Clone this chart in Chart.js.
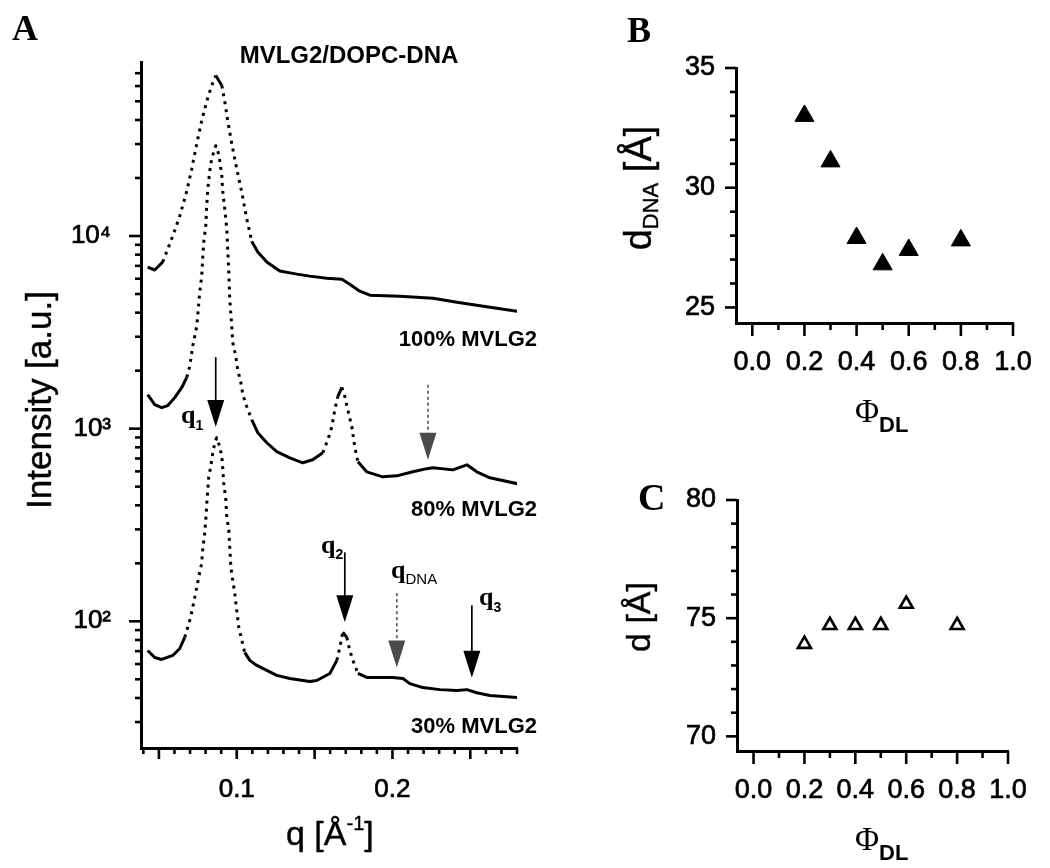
<!DOCTYPE html>
<html><head><meta charset="utf-8">
<script src="https://cdn.jsdelivr.net/npm/chart.js@4.4.1/dist/chart.umd.min.js"></script>
<style>
html,body{margin:0;padding:0;background:#fff;overflow:hidden;}
body{width:1050px;height:868px;position:relative;}
canvas{position:absolute;display:block;}
#cA{left:0;top:0;width:600px;height:868px;}
#cB{left:600px;top:0;width:450px;height:445px;}
#cC{left:600px;top:430px;width:450px;height:438px;}
</style></head><body>
<canvas id="cA" width="600" height="868"></canvas>
<canvas id="cB" width="450" height="445"></canvas>
<canvas id="cC" width="450" height="438"></canvas>
<script>
// ---------- Panel A data: q [1/Å] and intensity [a.u.] ----------
const q100 = [0.0428,0.0473,0.0524,0.0589,0.0634,0.0679,0.0711,0.0743,0.0775,0.0807,0.0839,0.0865,0.0904,0.0923,0.0942,0.0968,0.1000,0.1032,0.1064,0.1096,0.1135,0.1193,0.1276,0.1386,0.1469,0.1578,0.1675,0.1726,0.1790,0.1855,0.2048,0.2260,0.2414,0.2626,0.2806];
const i100 = [6900,6660,7320,10000,12700,17100,22300,30100,39700,49900,60400,68100,60400,49900,39700,30100,22300,16900,12300,9400,8260,7320,6580,6340,6190,6040,5970,5620,5170,4930,4870,4750,4530,4270,4060];

const q80 = [0.0428,0.0473,0.0518,0.0557,0.0602,0.0647,0.0679,0.0698,0.0717,0.0730,0.0743,0.0749,0.0762,0.0775,0.0781,0.0788,0.0801,0.0807,0.0814,0.0826,0.0839,0.0865,0.0878,0.0891,0.0904,0.0910,0.0923,0.0936,0.0942,0.0949,0.0955,0.0968,0.0974,0.0994,0.1006,0.1026,0.1039,0.1064,0.1096,0.1135,0.1193,0.1257,0.1341,0.1424,0.1488,0.1553,0.1585,0.1611,0.1630,0.1649,0.1675,0.1694,0.1713,0.1739,0.1758,0.1778,0.1835,0.1938,0.2028,0.2131,0.2221,0.2260,0.2388,0.2478,0.2542,0.2626,0.2806];
const i80 = [1503,1334,1285,1318,1449,1636,1845,2105,2675,3013,3397,3830,5100,6190,7580,9300,11270,14330,17580,21540,25180,29430,27730,24600,20540,17140,13830,10870,8550,6490,4700,3400,2805,2371,2028,1738,1503,1302,1115,953,845,759,706,665,690,750,877,1024,1256,1468,1636,1468,1256,1024,805,673,597,562,569,597,620,627,611,649,597,556,517];

const q30 = [0.0428,0.0473,0.0518,0.0589,0.0634,0.0666,0.0685,0.0704,0.0717,0.0730,0.0743,0.0762,0.0775,0.0781,0.0794,0.0801,0.0807,0.0814,0.0820,0.0833,0.0846,0.0859,0.0871,0.0891,0.0904,0.0910,0.0916,0.0929,0.0936,0.0949,0.0955,0.0961,0.0968,0.0974,0.0987,0.1000,0.1013,0.1032,0.1051,0.1084,0.1129,0.1193,0.1257,0.1341,0.1469,0.1514,0.1598,0.1643,0.1662,0.1681,0.1707,0.1726,0.1746,0.1778,0.1835,0.1919,0.2003,0.2067,0.2112,0.2195,0.2305,0.2414,0.2478,0.2542,0.2626,0.2806];
const i30 = [70.6,64.9,63.4,66.5,72.3,82.5,93.1,105,118,133,150,180,200,234,287,336,402,481,562,634,750,845,897,805,715,627,523,437,348,298,243,200,174,164,140,114,93,80,69,62.7,59,55.6,52.4,50.5,48.7,49.3,53.6,62.7,73.3,87.7,82.5,70.6,62.7,53.6,51.1,51.1,51.1,50.5,47.5,45.3,44.2,43.7,44.2,42.6,41.2,40.2];

// peak markers (q position, intensity span of the arrow)
const arrowQ    = [0.0865, 0.2228, 0.1694, 0.2028, 0.2510];
const arrowFrom = [2350, 1690, 228, 140, 121];
const arrowTo   = [1020, 690, 99, 57.5, 51];
const arrowGrey = [false, true, false, true, false];

// Panel A ticks
const qTickLabels = [0.1, 0.2];
const qMajorTicks = [0.05, 0.10, 0.15, 0.20, 0.25];
const qMinorTicks = [0.04,0.06,0.07,0.08,0.09,0.11,0.12,0.13,0.14,0.16,0.17,0.18,0.19,0.21,0.22,0.23,0.24,0.26,0.27,0.28];
const intensityTickLabels = [100, 1000, 10000];
const intensityMinorTicks = [30,40,50,60,70,80,90,200,300,400,500,600,700,800,900,2000,3000,4000,5000,6000,7000,8000,9000,20000,30000,40000,50000,60000,70000];

// ---------- Panels B and C ----------
const phiDL = [0.2, 0.3, 0.4, 0.5, 0.6, 0.8];
const dDNA = [33.0, 31.1, 27.9, 26.8, 27.4, 27.8];
const dLamellar = [73.9, 74.7, 74.7, 74.7, 75.6, 74.7];

const phiTickLabels = [0.0, 0.2, 0.4, 0.6, 0.8, 1.0];
const phiMinorTicks = [0.1, 0.3, 0.5, 0.7, 0.9];
const dDNATickLabels = [25, 30, 35];
const dDNAMinorTicks = [26, 27, 28, 29, 31, 32, 33, 34];
const dTickLabels = [70, 75, 80];
const dMinorTicks = [71, 72, 73, 74, 76, 77, 78, 79];

// ---------- helpers ----------
const SANS = "'Liberation Sans', Arial, sans-serif";
const SERIF = "'Liberation Serif', 'Times New Roman', serif";
const SUP = {100: '10\u00B2', 1000: '10\u00B3', 10000: '10\u2074'};

function rich(ctx, x, y, parts, align, rot, stroke) {
  ctx.save();
  ctx.translate(x, y);
  if (rot) ctx.rotate(rot);
  ctx.textBaseline = 'alphabetic';
  ctx.textAlign = 'left';
  let w = 0;
  parts.forEach(p => { ctx.font = p.f; p.w = ctx.measureText(p.t).width; w += p.w; });
  let cx = align === 'center' ? -w / 2 : (align === 'right' ? -w : 0);
  parts.forEach(p => {
    ctx.font = p.f; ctx.fillStyle = p.c || '#000';
    ctx.fillText(p.t, cx, p.dy || 0);
    if (stroke) { ctx.lineWidth = stroke; ctx.strokeStyle = p.c || '#000'; ctx.strokeText(p.t, cx, p.dy || 0); }
    cx += p.w;
  });
  ctx.restore();
}

function tickMarks(chart, id, majors, minors, majLen, minLen) {
  const s = chart.scales[id], ctx = chart.ctx, a = chart.chartArea;
  ctx.save();
  ctx.strokeStyle = '#000';
  ctx.lineWidth = 2.6;
  const draw = (v, len) => {
    const p = s.getPixelForValue(v);
    ctx.beginPath();
    if (s.isHorizontal()) { ctx.moveTo(p, a.bottom); ctx.lineTo(p, a.bottom + len); }
    else { ctx.moveTo(a.left, p); ctx.lineTo(a.left - len, p); }
    ctx.stroke();
  };
  minors.forEach(v => draw(v, minLen));
  majors.forEach(v => draw(v, majLen));
  ctx.restore();
}

function drawArrow(ctx, x, y0, y1, grey) {
  const headL = 27, headW = 8.5;
  ctx.save();
  ctx.strokeStyle = grey ? '#5a5a5a' : '#000';
  ctx.fillStyle = grey ? '#4a4a4a' : '#000';
  ctx.lineWidth = 1.7;
  if (grey) ctx.setLineDash([3, 3]);
  ctx.beginPath(); ctx.moveTo(x, y0); ctx.lineTo(x, y1 - headL + 1); ctx.stroke();
  ctx.setLineDash([]);
  ctx.beginPath();
  ctx.moveTo(x - headW, y1 - headL);
  ctx.lineTo(x + headW, y1 - headL);
  ctx.lineTo(x, y1);
  ctx.closePath();
  ctx.fill();
  ctx.restore();
}

const steepDash = c => {
  const dx = Math.abs(c.p1.x - c.p0.x), dy = Math.abs(c.p1.y - c.p0.y);
  return dy > 2.4 * dx ? [3, 5] : undefined;
};

function curve(qs, is) {
  return {
    data: qs.map((q, k) => ({x: q, y: is[k]})),
    borderColor: '#000', borderWidth: 3, pointRadius: 0, tension: 0,
    borderJoinStyle: 'round', fill: false,
    segment: {borderDash: steepDash}
  };
}

const hiddenGrid = len => ({display: true, drawOnChartArea: false, drawTicks: true, tickLength: len, color: 'rgba(0,0,0,0)'});
const axisBorder = {display: true, color: '#000', width: 3};
const tickFont = size => ({padding: 0, autoSkip: false, maxRotation: 0, minRotation: 0, font: {size: size}, color: '#000', textStrokeColor: '#000', textStrokeWidth: 0.7});

Chart.defaults.font.family = SANS;
Chart.defaults.color = '#000';

// ---------- Panel A ----------
const panelA = {
  id: 'panelA',
  afterDraw(chart) {
    const ctx = chart.ctx, xs = chart.scales.x, ys = chart.scales.y;
    tickMarks(chart, 'x', qMajorTicks, qMinorTicks, 11, 6);
    tickMarks(chart, 'y', intensityTickLabels, intensityMinorTicks, 12, 6);
    arrowQ.forEach((q, k) => drawArrow(ctx, xs.getPixelForValue(q), ys.getPixelForValue(arrowFrom[k]), ys.getPixelForValue(arrowTo[k]), arrowGrey[k]));
    const B22 = 'bold 22px ' + SANS;
    rich(ctx, 12, 40, [{t: 'A', f: 'bold 36px ' + SERIF}]);
    rich(ctx, 349, 63, [{t: 'MVLG2/DOPC-DNA', f: 'bold 24px ' + SANS}], 'center');
    rich(ctx, 537, 346, [{t: '100% MVLG2', f: B22}], 'right');
    rich(ctx, 537, 516, [{t: '80% MVLG2', f: B22}], 'right');
    rich(ctx, 537, 733, [{t: '30% MVLG2', f: B22}], 'right');
    const Q = 'bold 26px ' + SERIF, S = 'bold 14px ' + SANS;
    rich(ctx, 181, 423, [{t: 'q', f: Q}, {t: '1', f: S, dy: 7}]);
    rich(ctx, 321, 553, [{t: 'q', f: Q}, {t: '2', f: S, dy: 6}]);
    rich(ctx, 391, 578, [{t: 'q', f: Q}, {t: 'DNA', f: '15px ' + SANS, dy: 6}]);
    rich(ctx, 479, 605, [{t: 'q', f: Q}, {t: '3', f: S, dy: 7}]);
    rich(ctx, 51, 400, [{t: 'Intensity [a.u.]', f: '35px ' + SANS}], 'center', -Math.PI / 2, 0.4);
    rich(ctx, 286, 845, [{t: 'q [\u00C5', f: '34px ' + SANS}, {t: '-1', f: '20px ' + SANS, dy: -15}, {t: ']', f: '34px ' + SANS}], 'left', 0, 0.4);
  }
};

new Chart(document.getElementById('cA'), {
  type: 'line',
  data: {datasets: [curve(q100, i100), curve(q80, i80), curve(q30, i30)]},
  options: {
    responsive: false, animation: false, devicePixelRatio: 1,
    layout: {padding: {left: 0, right: 83, top: 62, bottom: 0}},
    plugins: {legend: {display: false}, tooltip: {enabled: false}},
    scales: {
      x: {
        type: 'linear', position: 'bottom', min: 0.0385, max: 0.28,
        grid: hiddenGrid(26), border: axisBorder,
        ticks: Object.assign(tickFont(26), {callback: v => v.toFixed(1)}),
        afterBuildTicks: s => { s.ticks = qTickLabels.map(v => ({value: v})); },
        afterFit: s => { s.height = 120; }
      },
      y: {
        type: 'logarithmic', position: 'left', min: 22, max: 80000,
        grid: hiddenGrid(30), border: axisBorder,
        ticks: Object.assign(tickFont(26), {callback: v => SUP[v] || ''}),
        afterBuildTicks: s => { s.ticks = intensityTickLabels.map(v => ({value: v})); },
        afterFit: s => { s.width = 141; }
      }
    }
  },
  plugins: [panelA]
});

// ---------- Panels B & C ----------
function makePanel(id, cfg) {
  const plug = {
    id: 'deco' + id,
    afterDraw(chart) {
      tickMarks(chart, 'x', phiTickLabels, phiMinorTicks, 13, 7);
      tickMarks(chart, 'y', cfg.yLabels, cfg.yMinor, 11, 6);
      cfg.texts(chart.ctx);
    }
  };
  new Chart(document.getElementById(id), {
    type: 'scatter',
    data: {datasets: [{
      data: phiDL.map((p, k) => ({x: p, y: cfg.values[k]})),
      pointStyle: 'triangle', pointRadius: cfg.r,
      backgroundColor: cfg.fill, borderColor: '#000', borderWidth: cfg.bw
    }]},
    options: {
      responsive: false, animation: false, devicePixelRatio: 1,
      layout: {padding: cfg.pad},
      plugins: {legend: {display: false}, tooltip: {enabled: false}},
      scales: {
        x: {
          type: 'linear', position: 'bottom', min: cfg.xmin, max: 1.0,
          grid: hiddenGrid(23), border: axisBorder,
          ticks: Object.assign(tickFont(27), {callback: v => v.toFixed(1)}),
          afterBuildTicks: s => { s.ticks = phiTickLabels.map(v => ({value: v})); },
          afterFit: s => { s.height = cfg.xh; }
        },
        y: {
          type: 'linear', position: 'left', min: cfg.ymin, max: cfg.ymax,
          grid: hiddenGrid(21), border: axisBorder,
          ticks: Object.assign(tickFont(27), {callback: v => String(v)}),
          afterBuildTicks: s => { s.ticks = cfg.yLabels.map(v => ({value: v})); },
          afterFit: s => { s.width = cfg.yw; }
        }
      }
    },
    plugins: [plug]
  });
}

makePanel('cB', {
  values: dDNA, yLabels: dDNATickLabels, yMinor: dDNAMinorTicks,
  ymin: 24.35, ymax: 35, xmin: -0.0625,
  pad: {left: 0, right: 37, top: 68, bottom: 0}, yw: 136, xh: 122,
  r: 11, fill: '#000', bw: 1,
  texts: ctx => {
    rich(ctx, 27, 42, [{t: 'B', f: 'bold 36px ' + SERIF}]);
    rich(ctx, 51, 188, [{t: 'd', f: '38px ' + SANS}, {t: 'DNA', f: '22px ' + SANS, dy: 7}, {t: ' [\u00C5]', f: '38px ' + SANS}], 'center', -Math.PI / 2, 0.4);
    rich(ctx, 255, 422, [{t: '\u03A6', f: '33px ' + SERIF}, {t: 'DL', f: 'bold 22px ' + SANS, dy: 10}]);
  }
});

makePanel('cC', {
  values: dLamellar, yLabels: dTickLabels, yMinor: dMinorTicks,
  ymin: 69.38, ymax: 80, xmin: -0.065,
  pad: {left: 0, right: 42, top: 70, bottom: 0}, yw: 137, xh: 117,
  r: 7.5, fill: 'rgba(255,255,255,1)', bw: 2.6,
  texts: ctx => {
    rich(ctx, 38, 80, [{t: 'C', f: 'bold 38px ' + SERIF}]);
    rich(ctx, 50, 187, [{t: 'd [\u00C5]', f: '34px ' + SANS}], 'center', -Math.PI / 2, 0.4);
    rich(ctx, 255, 420, [{t: '\u03A6', f: '33px ' + SERIF}, {t: 'DL', f: 'bold 22px ' + SANS, dy: 10}]);
  }
});
</script>
</body></html>
